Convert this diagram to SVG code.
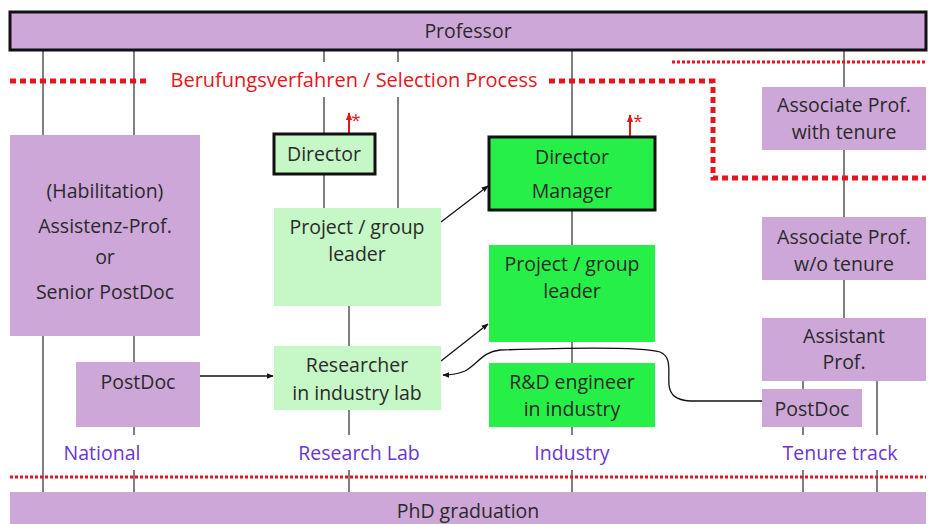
<svg xmlns="http://www.w3.org/2000/svg" width="936" height="524" viewBox="0 0 936 524">
<style>
text{font-family:"Open Sans","Noto Sans","DejaVu Sans",sans-serif;font-size:19.5px;fill:#2a2a2a;text-anchor:middle}
.p{fill:#cda7d8}
.lg{fill:#c6f7c6}
.bg{fill:#26ef48}
.thick{stroke:#111;stroke-width:3}
.v{stroke:#555;stroke-width:1.5;fill:none}
.a{stroke:#111;stroke-width:1.3;fill:none;marker-end:url(#ah)}
.r{stroke:#e8141c;fill:none}
.lab{fill:#6a35d0}
</style>
<defs>
<marker id="ah" viewBox="0 0 10 10" refX="9" refY="5" markerWidth="7" markerHeight="7" orient="auto" markerUnits="userSpaceOnUse"><path d="M0,1 L10,5 L0,9 z" fill="#111"/></marker>
<marker id="rh" viewBox="0 0 10 10" refX="9" refY="5" markerWidth="8" markerHeight="8" orient="auto" markerUnits="userSpaceOnUse"><path d="M0,1 L10,5 L0,9 z" fill="#e8141c"/></marker>
</defs>
<rect width="936" height="524" fill="#fff"/>

<g id="connectors">
<path class="v" d="M43,50V135M43,336V492M134,50V135M134,336V362M134,427V435M134,470V492"/>
<path class="v" d="M324,50V62M324,97V134M324,174V208M398,50V62M398,97V208M349,306V346M349,410V435M349,470V492"/>
<path class="v" d="M572,50V137M572,210V245M572,342V363M572,427V435M572,470V492"/>
<path class="v" d="M844,50V87M844,150V217M844,280V318M803,381V389M803,427V435M803,470V492M877,381V435M877,470V492"/>
<path class="a" d="M200,376H273"/>
<path class="a" d="M441,222L488,186"/>
<path class="a" d="M441,361L488,324"/>
<path class="a" d="M762,401L690,401C676,400 670,395 669,385C668,370 672,357 660,352C640,346 560,348 500,350C482,352 478,364 465,371C458,374 452,375 443,375"/>
<path class="r" stroke-width="2" marker-end="url(#rh)" d="M349,134V113"/>
<path class="r" stroke-width="2" marker-end="url(#rh)" d="M630,137V115"/>
<path class="r" stroke-width="5" stroke-dasharray="6 4" d="M10,81H148"/>
<path class="r" stroke-width="5" stroke-dasharray="6 4" d="M549,81H713V178H926"/>
<path class="r" stroke-width="3" stroke-dasharray="3 2" d="M672,62H926"/>
<path class="r" stroke-width="3" stroke-dasharray="3 2" d="M10,477H926"/>
</g>

<text x="354" y="87" textLength="367" lengthAdjust="spacingAndGlyphs" style="fill:#e8141c;font-size:20px">Berufungsverfahren / Selection Process</text>
<text x="356" y="126" style="fill:#e8141c;font-size:17px">*</text>
<text x="638" y="127" style="fill:#e8141c;font-size:17px">*</text>

<g id="professor"><rect x="10" y="12" width="916" height="38" class="p thick"/><text x="468" y="38">Professor</text></g>
<g id="phd"><rect x="10" y="492" width="916" height="40" class="p"/><text x="468" y="518">PhD graduation</text></g>

<g id="habilitation"><rect x="10" y="135" width="190" height="201" class="p"/>
<text x="105" y="198">(Habilitation)</text><text x="105" y="233">Assistenz-Prof.</text><text x="105" y="264">or</text><text x="105" y="299">Senior PostDoc</text></g>
<g id="postdoc-national"><rect x="76" y="362" width="124" height="65" class="p"/><text x="138" y="389">PostDoc</text></g>

<g id="director-lab"><rect x="274" y="134" width="101" height="40" class="lg thick"/><text x="324" y="161">Director</text></g>
<g id="pgl-lab"><rect x="274" y="208" width="167" height="98" class="lg"/><text x="357" y="234">Project / group</text><text x="357" y="261">leader</text></g>
<g id="researcher"><rect x="274" y="346" width="167" height="64" class="lg"/><text x="357" y="372">Researcher</text><text x="357" y="400">in industry lab</text></g>

<g id="director-manager"><rect x="489" y="137" width="166" height="73" class="bg thick"/><text x="572" y="164">Director</text><text x="572" y="198">Manager</text></g>
<g id="pgl-industry"><rect x="489" y="245" width="166" height="97" class="bg"/><text x="572" y="271">Project / group</text><text x="572" y="298">leader</text></g>
<g id="rd-engineer"><rect x="489" y="363" width="166" height="64" class="bg"/><text x="572" y="389">R&amp;D engineer</text><text x="572" y="416">in industry</text></g>

<g id="assoc-tenure"><rect x="762" y="87" width="164" height="63" class="p"/><text x="844" y="112">Associate Prof.</text><text x="844" y="139">with tenure</text></g>
<g id="assoc-wo"><rect x="762" y="217" width="164" height="63" class="p"/><text x="844" y="244">Associate Prof.</text><text x="844" y="271">w/o tenure</text></g>
<g id="assistant"><rect x="762" y="318" width="164" height="63" class="p"/><text x="844" y="343">Assistant</text><text x="844" y="369">Prof.</text></g>
<g id="postdoc-tenure"><rect x="762" y="389" width="100" height="38" class="p"/><text x="812" y="416">PostDoc</text></g>

<g id="labels"><text class="lab" x="102" y="460">National</text><text class="lab" x="359" y="460">Research Lab</text><text class="lab" x="572" y="460">Industry</text><text class="lab" x="840" y="460">Tenure track</text></g>
</svg>
